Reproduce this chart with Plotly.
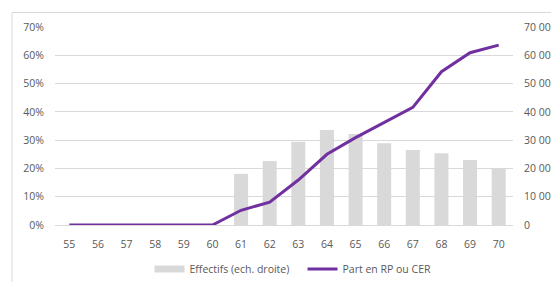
import plotly.graph_objects as go

ages = [str(a) for a in range(55, 71)]
effectifs = [None, None, None, None, None, None,
             18100, 22600, 29400, 33600, 32200, 28900, 26500, 25400, 23000, 20000]
part_rp_cer = [0, 0, 0, 0, 0, 0, 0.052, 0.081, 0.159, 0.250, 0.309, 0.362, 0.416, 0.542, 0.609, 0.636]

left_ticks = [0, 0.1, 0.2, 0.3, 0.4, 0.5, 0.6, 0.7]
right_ticks = [0, 10000, 20000, 30000, 40000, 50000, 60000, 70000]

FONT = "Open Sans"
FS = 10.5
GREY = "#595959"
BAR = "#d9d9d9"
LINE = "#7030a0"

# the page body adds an 8px offset, compensated in the margins
OFF = 8
ML, MT, PW, PH = 55 - OFF, 27 - OFF, 458, 198
W, H = 559, 282

fig = go.Figure()
fig.add_trace(go.Bar(
    x=ages, y=effectifs, name="Effectifs (ech. droite)",
    marker=dict(color=BAR, line=dict(width=0)),
    width=0.49, yaxis="y", showlegend=False,
))
fig.add_trace(go.Scatter(
    x=ages, y=part_rp_cer, name="Part en RP ou CER", mode="lines",
    line=dict(color=LINE, width=3), yaxis="y2", legendrank=2,
))
# legend-only entry giving the wide grey swatch of the bar series
fig.add_trace(go.Scatter(
    x=[None], y=[None], name="Effectifs (ech. droite)   ", mode="lines",
    line=dict(color=BAR, width=7), yaxis="y", legendrank=1,
))

fig.update_layout(
    width=W, height=H,
    margin=dict(l=ML, r=W - ML - PW, t=MT, b=H - MT - PH, autoexpand=False),
    paper_bgcolor="white", plot_bgcolor="white",
    separators=", ",
    font=dict(family=FONT, size=FS, color=GREY),
    showlegend=True,
    legend=dict(orientation="h", x=(293 - 55) / PW, xanchor="center",
                yref="container", y=1 - (269 - OFF) / H, yanchor="middle",
                font=dict(family=FONT, size=FS, color=GREY),
                itemwidth=30),
    xaxis=dict(type="category", range=[-0.5, 15.5], showgrid=False, showline=True,
               linecolor=BAR, linewidth=1, ticks="", automargin=False,
               tickfont=dict(size=FS, color=GREY), ticklabelstandoff=9),
    yaxis=dict(side="right", range=[0, 70000], tickvals=right_ticks, tickformat=",d",
               showgrid=True, gridcolor=BAR, gridwidth=1, zeroline=False,
               showline=False, ticks="", ticklabelstandoff=10, automargin=False,
               tickfont=dict(size=FS, color=GREY)),
    yaxis2=dict(side="left", overlaying="y", range=[0, 0.7], tickvals=left_ticks,
                tickformat=".0%", showgrid=False, zeroline=False, showline=False,
                ticks="", ticklabelstandoff=10, automargin=False,
                tickfont=dict(size=FS, color=GREY)),
    shapes=[dict(type="rect", xref="paper", yref="paper",
                 x0=(12 - 55) / PW, x1=1.3, y0=-0.5, y1=1 + (27 - 12.5) / PH,
                 line=dict(color=BAR, width=1), layer="below")],
)

fig.write_html("out.html")
